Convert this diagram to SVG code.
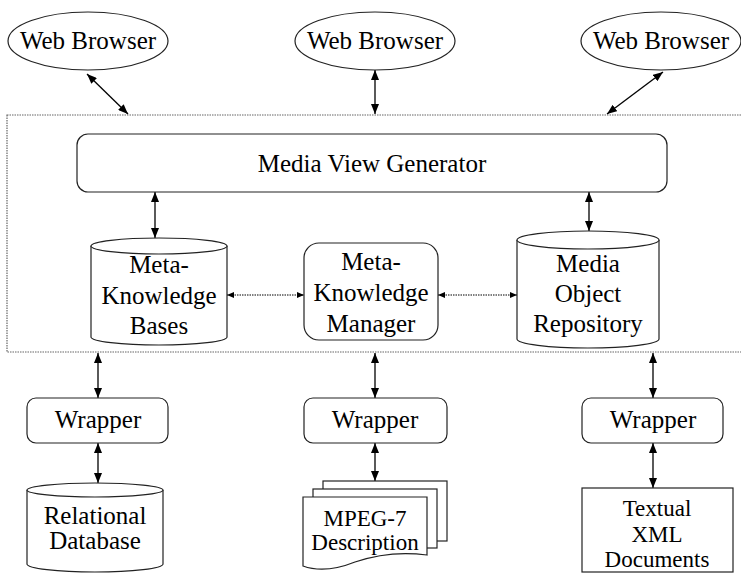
<svg xmlns="http://www.w3.org/2000/svg" width="741" height="574" viewBox="0 0 741 574">
<defs>
<style>
.s{fill:#fff;stroke:#222;stroke-width:1.2}
.t{font-family:'Liberation Serif','Times New Roman',Times,Tinos,'DejaVu Serif','Noto Serif',FreeSerif,serif;font-size:25px;fill:#000;text-anchor:middle}
.u{font-size:23px}
.c{stroke:#000;stroke-width:1.3;fill:none}
.d{stroke:#000;stroke-width:1;stroke-dasharray:1.5 1;fill:none}
</style>
<marker id="a" markerUnits="userSpaceOnUse" markerWidth="10" markerHeight="8" viewBox="0 0 10 8" refX="10" refY="4" orient="auto-start-reverse"><path d="M0,0L10,4L0,8z" fill="#000"/></marker>
<marker id="b" markerUnits="userSpaceOnUse" markerWidth="7" markerHeight="6" viewBox="0 0 7 6" refX="7" refY="3" orient="auto-start-reverse"><path d="M0,0L7,3L0,6z" fill="#000"/></marker>
</defs>
<rect x="7" y="115" width="740" height="237" fill="none" stroke="#666" stroke-width="1.2" stroke-dasharray="1.5 1"/>
<g id="connectors">
<line class="c" x1="87" y1="74" x2="128" y2="114" marker-start="url(#a)" marker-end="url(#a)"/>
<line class="c" x1="375" y1="70" x2="375" y2="114" marker-start="url(#a)" marker-end="url(#a)"/>
<line class="c" x1="663" y1="72" x2="607" y2="114" marker-start="url(#a)" marker-end="url(#a)"/>
<line class="c" x1="155" y1="192" x2="155" y2="238" marker-start="url(#a)" marker-end="url(#a)"/>
<line class="c" x1="589" y1="192" x2="589" y2="231" marker-start="url(#a)" marker-end="url(#a)"/>
<line class="d" x1="227" y1="295" x2="304" y2="295" marker-start="url(#b)" marker-end="url(#b)"/>
<line class="d" x1="438" y1="295" x2="517" y2="295" marker-start="url(#b)" marker-end="url(#b)"/>
<line class="c" x1="98" y1="353" x2="98" y2="398" marker-start="url(#a)" marker-end="url(#a)"/>
<line class="c" x1="375" y1="353" x2="375" y2="398" marker-start="url(#a)" marker-end="url(#a)"/>
<line class="c" x1="653" y1="353" x2="653" y2="398" marker-start="url(#a)" marker-end="url(#a)"/>
<line class="c" x1="98" y1="443" x2="98" y2="483" marker-start="url(#a)" marker-end="url(#a)"/>
<line class="c" x1="375" y1="443" x2="375" y2="481" marker-start="url(#a)" marker-end="url(#a)"/>
<line class="c" x1="653" y1="443" x2="653" y2="488" marker-start="url(#a)" marker-end="url(#a)"/>
</g>
<g id="wb1"><ellipse class="s" cx="88" cy="41" rx="80" ry="29"/><text class="t" x="88" y="49">Web Browser</text></g>
<g id="wb2"><ellipse class="s" cx="375" cy="41" rx="80" ry="29"/><text class="t" x="375" y="49">Web Browser</text></g>
<g id="wb3"><ellipse class="s" cx="661" cy="41" rx="80" ry="29"/><text class="t" x="661" y="49">Web Browser</text></g>
<g id="mvg"><rect class="s" x="77" y="134" width="590" height="58" rx="11"/><text class="t" x="372" y="172">Media View Generator</text></g>
<g id="mkb"><path class="s" d="M91,246V337A68,8 0 0 0 227,337V246"/><ellipse class="s" cx="159" cy="246" rx="68" ry="8"/>
<text class="t" x="159" y="273">Meta-</text><text class="t" x="159" y="304">Knowledge</text><text class="t" x="159" y="334">Bases</text></g>
<g id="mkm"><rect class="s" x="304" y="243" width="134" height="97" rx="15"/>
<text class="t" x="371" y="270">Meta-</text><text class="t" x="371" y="301">Knowledge</text><text class="t" x="371" y="332">Manager</text></g>
<g id="mor"><path class="s" d="M517,240V339A71,9 0 0 0 659,339V240"/><ellipse class="s" cx="588" cy="240" rx="71" ry="9"/>
<text class="t" x="588" y="272">Media</text><text class="t" x="588" y="302">Object</text><text class="t" x="588" y="332">Repository</text></g>
<g id="w1"><rect class="s" x="27" y="398" width="141" height="45" rx="9"/><text class="t" x="98" y="428">Wrapper</text></g>
<g id="w2"><rect class="s" x="304" y="398" width="143" height="45" rx="9"/><text class="t" x="375" y="428">Wrapper</text></g>
<g id="w3"><rect class="s" x="582" y="398" width="141" height="45" rx="9"/><text class="t" x="653" y="428">Wrapper</text></g>
<g id="rdb"><path class="s" d="M27,490V564A68,8 0 0 0 163,564V490"/><ellipse class="s" cx="95" cy="490" rx="68" ry="7"/>
<text class="t" x="95" y="524">Relational</text><text class="t" x="95" y="549">Database</text></g>
<g id="mpeg">
<rect class="s" x="323" y="481" width="124" height="60"/>
<rect class="s" x="313" y="489" width="124" height="59"/>
<path class="s" d="M303,497H427V555Q390,550 355,562Q325,574 303,566Z"/>
<text class="t u" x="365" y="526">MPEG-7</text><text class="t u" x="365" y="550">Description</text></g>
<g id="xml"><rect class="s" x="582" y="488" width="151" height="84"/>
<text class="t u" x="657" y="516">Textual</text><text class="t u" x="657" y="542">XML</text><text class="t u" x="657" y="567">Documents</text></g>
</svg>
